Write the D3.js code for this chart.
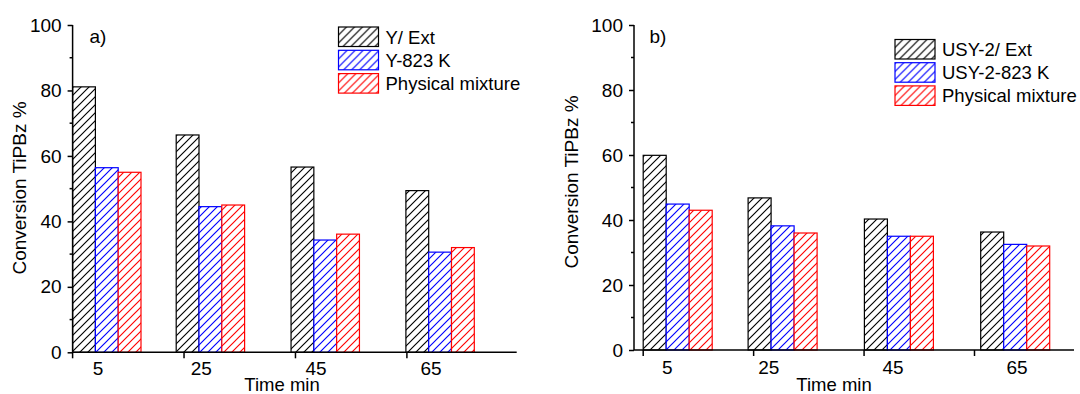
<!DOCTYPE html>
<html>
<head>
<meta charset="utf-8">
<script src="https://cdn.jsdelivr.net/npm/d3@7"></script>
<style>
  html, body { margin: 0; padding: 0; background: #fff; }
  svg { display: block; }
  text { font-family: "Liberation Sans", Arial, sans-serif; fill: #000; }
</style>
</head>
<body>
<svg id="chart" width="1080" height="394"></svg>
<script>
// ---------- data ----------
const categories = ["5", "25", "45", "65"];
const yTicks = [0, 20, 40, 60, 80, 100];

const seriesNamesA = ["Y/ Ext", "Y-823 K", "Physical mixture"];
const extA      = [81.1, 66.4, 56.6, 49.4];
const calcA     = [56.4, 44.5, 34.3, 30.6];
const mixA      = [55.0, 45.0, 36.1, 32.0];

const seriesNamesB = ["USY-2/ Ext", "USY-2-823 K", "Physical mixture"];
const extB      = [59.9, 46.8, 40.3, 36.3];
const calcB     = [44.9, 38.2, 35.0, 32.5];
const mixB      = [43.0, 36.0, 35.0, 32.0];

const colors = ["#000000", "#0000ff", "#ff0000"];

// ---------- drawing ----------
const svg = d3.select("#chart");
const defs = svg.append("defs");
colors.forEach((c, i) => {
  const p = defs.append("pattern")
    .attr("id", "hatch" + i)
    .attr("patternUnits", "userSpaceOnUse")
    .attr("width", 8).attr("height", 8);
  p.append("rect").attr("width", 8).attr("height", 8).attr("fill", "#fff");
  p.append("path")
    .attr("d", "M-2,2 L2,-2 M0,8 L8,0 M6,10 L10,6")
    .attr("stroke", c).attr("stroke-width", 1.15).attr("fill", "none");
});

const FONT = 19;

function panel(cfg) {
  const g = svg.append("g");
  const y = d3.scaleLinear().domain([0, 100]).range([cfg.y0, cfg.y100]);
  const tickX = d3.scaleLinear().domain([0, 3]).range(cfg.tickRange);
  const groupX = d3.scaleLinear().domain([0, 1, 3]).range(cfg.groupRange);
  const labelX = d3.scaleLinear().domain([0, 1, 3]).range(cfg.labelRange);
  const barW = cfg.barW;

  // bars
  cfg.series.forEach((vals, s) => {
    const sg = g.append("g");
    vals.forEach((d, i) => {
      sg.append("rect")
        .attr("x", groupX(i) + s * barW)
        .attr("y", y(d))
        .attr("width", barW)
        .attr("height", y(0) - y(d))
        .attr("fill", "url(#hatch" + s + ")")
        .attr("stroke", colors[s])
        .attr("stroke-width", 1.2);
    });
  });

  // y axis
  const yAxis = d3.axisLeft(y).tickValues(yTicks).tickSize(5).tickPadding(6)
    .tickFormat(d3.format("d"));
  const ya = g.append("g").attr("transform", `translate(${cfg.axisX},0)`).call(yAxis);
  ya.select(".domain").attr("stroke", "#000").attr("stroke-width", 1.5).attr("d", `M0,${cfg.y0}V${cfg.y100}`);
  ya.selectAll(".tick line").attr("stroke-width", 1.5);
  ya.selectAll("text").style("font-size", FONT + "px").attr("font-family", "Liberation Sans, Arial, sans-serif");
  // minor ticks
  const minor = d3.range(10, 100, 20);
  ya.selectAll(".minor").data(minor).join("line")
    .attr("class", "minor")
    .attr("x1", -3).attr("x2", 0)
    .attr("y1", d => y(d)).attr("y2", d => y(d))
    .attr("stroke", "#000").attr("stroke-width", 1.5);

  // x axis line
  g.append("line")
    .attr("x1", cfg.axisX).attr("x2", cfg.axisEnd)
    .attr("y1", y(0)).attr("y2", y(0))
    .attr("stroke", "#000").attr("stroke-width", 1.5);
  // x ticks
  g.selectAll(".xt").data(categories).join("line")
    .attr("class", "xt")
    .attr("x1", (d, i) => tickX(i)).attr("x2", (d, i) => tickX(i))
    .attr("y1", y(0)).attr("y2", y(0) + 6)
    .attr("stroke", "#000").attr("stroke-width", 1.5);
  g.selectAll(".xl").data(categories).join("text")
    .attr("class", "xl")
    .attr("x", (d, i) => labelX(i))
    .attr("y", cfg.xLabelY)
    .attr("text-anchor", "middle")
    .style("font-size", FONT + "px")
    .text(d => d);

  // titles
  g.append("text")
    .attr("transform", `translate(${cfg.yTitleX},${cfg.yTitleY}) rotate(-90)`)
    .attr("text-anchor", "middle")
    .style("font-size", FONT + "px")
    .text("Conversion TiPBz %");
  g.append("text")
    .attr("x", cfg.xTitleX).attr("y", cfg.xTitleY)
    .attr("text-anchor", "middle")
    .style("font-size", "18.5px")
    .text("Time min");
  g.append("text")
    .attr("x", cfg.tagX).attr("y", cfg.tagY)
    .style("font-size", FONT + "px")
    .text(cfg.tag);

  // legend
  const lg = g.append("g").attr("transform", `translate(${cfg.legX},${cfg.legY})`);
  cfg.names.forEach((n, s) => {
    lg.append("rect")
      .attr("x", 0).attr("y", s * cfg.legStep)
      .attr("width", 40).attr("height", 19.5)
      .attr("fill", "url(#hatch" + s + ")")
      .attr("stroke", colors[s]).attr("stroke-width", 1.2);
    lg.append("text")
      .attr("x", 47).attr("y", s * cfg.legStep + 16.5)
      .style("font-size", "18.5px")
      .text(n);
  });
}

panel({
  series: [extA, calcA, mixA], names: seriesNamesA, tag: "a)",
  y0: 352.3, y100: 25, axisX: 72.6, axisEnd: 516.7,
  tickRange: [72.6, 406.9], groupRange: [72.6, 176.2, 405.9], labelRange: [98, 201.2, 431],
  barW: 22.8, xLabelY: 375,
  yTitleX: 26.3, yTitleY: 188, xTitleX: 282, xTitleY: 390.5,
  tagX: 89.5, tagY: 43, legX: 338.5, legY: 27, legStep: 23.3
});

panel({
  series: [extB, calcB, mixB], names: seriesNamesB, tag: "b)",
  y0: 350, y100: 25, axisX: 634, axisEnd: 1074,
  tickRange: [643.2, 974.5], groupRange: [643.2, 748.1, 980.7], labelRange: [667.3, 768.8, 1017.1],
  barW: 23, xLabelY: 374,
  yTitleX: 578, yTitleY: 182, xTitleX: 834, xTitleY: 390.5,
  tagX: 649.5, tagY: 43, legX: 895, legY: 39.5, legStep: 23.2
});
</script>
</body>
</html>
